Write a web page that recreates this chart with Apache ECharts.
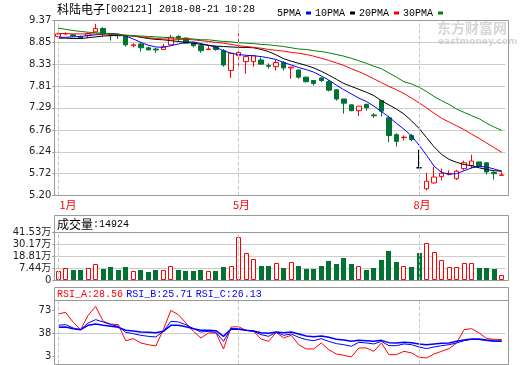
<!DOCTYPE html>
<html><head><meta charset="utf-8">
<script src="https://cdn.jsdelivr.net/npm/echarts@6/dist/echarts.min.js"></script>
<style>html,body{margin:0;padding:0;background:#fff}#c{width:520px;height:365px}</style>
</head><body><div id="c"></div>
<script>
// ---- data ----
const categories = Array.from({length: 60}, (_, i) => 'k' + (i + 1));
const monthTickIndex = [0, 24, 48];
const monthTickLabels = ['1月', '5月', '8月'];
const priceTicks = [5.20, 5.72, 6.24, 6.76, 7.29, 7.81, 8.33, 8.85, 9.37];
const volTicks = [-3.92, 7.44, 18.81, 30.17, 41.53];
const volTickLabels = ['0', '7.44万', '18.81万', '30.17万', '41.53万'];
const rsiTicks = [3, 38, 73];

const open = [8.99,9.05,9.03,8.99,9.01,9.10,9.18,9.03,9.03,9.01, 8.77,8.81,8.72,8.69,8.68,8.79,8.99,8.95,8.83,8.77,
  8.68,8.74,8.65,8.18,8.53,8.39,8.39,8.43,8.30,8.27, 8.37,8.24,8.19,8.02,7.94,8.00,7.91,7.72,7.50,7.36,
  7.22,7.37,7.12,7.46,7.05,6.65,6.58,6.63,5.86,5.36, 5.50,5.65,5.71,5.60,5.84,5.91,6.00,5.98,5.75,5.68];
const close = [9.05,9.06,9.00,8.95,9.06,9.18,9.05,9.01,9.01,8.79, 8.79,8.72,8.67,8.67,8.75,8.97,8.95,8.83,8.77,8.65,
  8.69,8.68,8.31,8.59,8.61,8.51,8.53,8.33,8.28,8.37, 8.24,8.26,8.02,7.91,7.87,7.94,7.71,7.50,7.40,7.22,
  7.33,7.29,7.10,7.21,6.63,6.49,6.59,6.53,5.86,5.54, 5.64,5.73,5.72,5.78,5.98,6.02,5.89,5.76,5.72,5.69];
const low = [8.97,9.02,8.98,8.93,8.95,9.10,8.99,8.89,8.93,8.75, 8.73,8.63,8.67,8.60,8.67,8.79,8.87,8.82,8.73,8.60,
  8.67,8.65,8.27,8.00,8.27,8.10,8.27,8.33,8.22,8.18, 8.18,7.98,7.98,7.90,7.82,7.90,7.68,7.46,7.15,7.21,
  7.09,7.22,7.05,7.08,6.47,6.37,6.51,6.49,5.86,5.32, 5.48,5.56,5.68,5.57,5.80,5.84,5.88,5.70,5.58,5.68];
const high = [9.08,9.09,9.05,9.01,9.08,9.29,9.21,9.05,9.05,9.02, 8.83,8.85,8.75,8.72,8.81,9.03,9.02,8.97,8.86,8.79,
  8.77,8.76,8.69,8.61,9.09,8.53,8.53,8.49,8.35,8.43, 8.40,8.26,8.20,8.03,7.95,8.02,7.95,7.72,7.50,7.37,
  7.33,7.39,7.16,7.47,7.10,6.68,6.63,6.67,6.29,5.74, 5.88,5.84,5.80,5.81,6.03,6.17,6.00,5.98,5.78,5.75];

const ma5 = [8.97,8.97,8.98,8.99,9.01,9.03,9.05,9.06,9.05,9.00, 8.93,8.85,8.78,8.74,8.73,8.77,8.81,8.85,8.86,8.82,
  8.78,8.73,8.65,8.59,8.56,8.54,8.53,8.51,8.48,8.44, 8.37,8.31,8.25,8.20,8.14,8.05,7.95,7.83,7.72,7.62,
  7.52,7.44,7.33,7.20,7.07,6.92,6.78,6.62,6.40,6.16, 5.90,5.75,5.71,5.72,5.79,5.86,5.89,5.88,5.83,5.78];
const ma10 = [8.95,8.95,8.94,8.94,8.96,8.98,9.00,9.01,9.01,9.01, 9.00,8.97,8.94,8.92,8.91,8.89,8.87,8.85,8.83,8.80,
  8.78,8.76,8.75,8.74,8.73,8.73,8.72,8.68,8.63,8.55, 8.46,8.40,8.35,8.30,8.24,8.16,8.07,7.97,7.87,7.80,
  7.73,7.66,7.58,7.46,7.36,7.26,7.14,6.98,6.80,6.58, 6.36,6.18,6.06,5.99,5.94,5.91,5.86,5.82,5.79,5.78];
const ma20 = [9.06,9.06,9.05,9.05,9.05,9.05,9.05,9.04,9.03,9.02, 9.00,8.98,8.96,8.94,8.93,8.93,8.92,8.92,8.91,8.89,
  8.87,8.85,8.83,8.80,8.77,8.75,8.73,8.71,8.68,8.66, 8.64,8.61,8.59,8.56,8.52,8.47,8.42,8.36,8.30,8.22,
  8.15,8.07,7.98,7.89,7.80,7.72,7.63,7.52,7.41,7.29, 7.16,7.04,6.95,6.86,6.77,6.66,6.56,6.45,6.34,6.23];
const ma30 = [9.19,9.16,9.13,9.11,9.09,9.08,9.06,9.06,9.03,9.02, 9.01,9.00,8.99,8.98,8.97,8.96,8.95,8.94,8.93,8.91,
  8.91,8.89,8.87,8.86,8.84,8.83,8.82,8.80,8.79,8.77, 8.75,8.72,8.69,8.68,8.65,8.63,8.60,8.56,8.52,8.47,
  8.41,8.35,8.28,8.22,8.12,8.02,7.91,7.86,7.78,7.68, 7.56,7.46,7.37,7.26,7.18,7.10,7.03,6.92,6.83,6.75];

// volume in 万 (bars are drawn up from the bottom of the panel, as in the reference)
const volume = [5.09,7.61,6.08,6.08,7.61,11.33,6.95,8.81,6.08,8.81, 5.09,6.08,4.43,6.08,6.08,9.47,6.08,5.09,5.09,6.08,
  5.09,5.09,8.81,9.47,36.94,22.17,16.15,9.80,9.80,12.32, 8.26,13.30,9.80,6.95,6.95,9.80,14.50,11.66,17.35,11.66,
  9.80,6.08,7.94,15.49,24.03,13.96,9.80,8.81,22.17,31.58, 23.04,15.16,8.59,8.59,12.32,12.32,7.94,7.94,6.95,1.49];

const rsiA = [67.4,70,55,43.6,65.4,79,56.3,52.2,51.2,26.8, 29.9,23.3,20.7,18.7,43.6,73,66.4,53.7,41,30.9,
  38.5,38.5,14.2,47.6,48.1,42.6,41,29.4,25.8,39.5, 30.9,35,20.7,14.2,14.2,23.3,13.1,6.5,4.5,2,
  15.7,15.7,10.6,23.3,5.5,5.5,10.6,8.1,1.5,0.5, 6.5,10.6,14.7,23.3,43.6,45.1,38.5,30,28.8,28.56];
const rsiB = [50.2,51.2,46.1,43.6,53.7,58.8,55.3,51.2,48.7,39.5, 37.5,35,33.4,32.4,41,56.3,55.3,51.2,45.1,40,
  41,39.5,25.8,45.1,45.1,42.6,41,36,33.4,39.5, 35,37,31.9,28.4,26.8,29.9,25.8,22.3,20.7,18.2,
  24.3,23.3,21.8,25.8,19.2,19.2,21.8,20.7,17.2,14.7, 17.2,19.2,20.7,23.3,26.8,28.9,28.4,26.8,25.8,25.71];
const rsiC = [47.1,47.6,45.1,43.6,50.2,52.2,50.2,48.7,47.1,42.6, 41.6,40,39.5,39,41,50.2,50.2,48.1,45.1,42.6,
  42.6,42.1,33.4,44.6,44.1,42.6,41.6,39,38,40, 39,40,37,33.9,32.9,33.9,31.9,28.9,27.9,25.8,
  27.3,26.8,25.8,27.3,23.8,23.3,24.3,23.8,21.8,20.7, 21.8,22.8,23.3,25.8,27.9,29.4,29.4,27.9,26.8,26.13];

// ---- styling ----
const RED = '#ff0000', GREEN = '#007332', BLUE = '#0000ff';
const MONO = '"Liberation Mono", monospace';
const CJK = '"Noto Sans CJK SC", sans-serif';
const GL = 54.3, GW = 451.2;
const VOL_MIN = volTicks[0], VOL_MAX = volTicks[volTicks.length - 1];

const isUp = categories.map((_, i) => close[i] > open[i] ? true : close[i] < open[i] ? false : (i > 0 ? close[i] >= close[i - 1] : true));
const monthLines = {
  silent: true, symbol: 'none', label: {show: false}, animation: false,
  lineStyle: {type: 'dashed', color: '#c8c8c8', width: 1},
  data: monthTickIndex.map(i => ({xAxis: categories[i]}))
};
const labelOf = (ticks, labels) => v => {
  const k = ticks.findIndex(t => Math.abs(t - v) < 1e-3);
  return k >= 0 ? labels[k] : '';
};

const yLab = {fontSize: 10, fontFamily: '"DejaVu Sans", ' + CJK, color: '#222', margin: 3, showMinLabel: true, showMaxLabel: true};

const option = {
  animation: false,
  legend: {
    left: 272, top: 3, align: 'right', icon: 'rect', itemWidth: 5, itemHeight: 3, itemGap: 4,
    selectedMode: false,
    textStyle: {fontFamily: MONO, fontSize: 10, color: '#000'},
    data: ['5PMA', '10PMA', '20PMA', '30PMA']
  },
  grid: [
    {left: GL, width: GW, top: 20.5, height: 175, outerBoundsMode: 'none'},
    {left: GL, width: GW, top: 232.5, height: 48, outerBoundsMode: 'none'},
    {left: GL, width: GW, top: 300.5, height: 64, outerBoundsMode: 'none'}
  ],
  xAxis: [0, 1, 2].map(g => ({
    type: 'category', gridIndex: g, data: categories, boundaryGap: true,
    axisLine: {show: false}, axisTick: {show: false}, splitLine: {show: false},
    axisLabel: g === 0 ? {
      show: true, margin: 4, fontSize: 11, color: RED, fontFamily: CJK,
      interval: (i) => monthTickIndex.includes(i),
      formatter: (v, i) => {
        const k = monthTickIndex.indexOf(i);
        if (k < 0) return '';
        return (k === 0 ? '{a|' : '{b|') + monthTickLabels[k] + '}';
      },
      rich: {
        a: {padding: [0, 0, 0, 20], fontSize: 11, color: RED, fontFamily: CJK},
        b: {padding: [0, 0, 0, 6], fontSize: 11, color: RED, fontFamily: CJK}
      }
    } : {show: false}
  })),
  yAxis: [
    {
      type: 'value', gridIndex: 0, min: 5.20, max: 9.37,
      axisLine: {show: false},
      axisTick: {show: true, length: 2, customValues: priceTicks, lineStyle: {color: '#999'}},
      axisLabel: Object.assign({customValues: priceTicks, formatter: v => v.toFixed(2)}, yLab),
      splitLine: {show: true, lineStyle: {color: '#cccccc', width: 1}}
    },
    {
      type: 'value', gridIndex: 1, min: VOL_MIN, max: VOL_MAX,
      axisLine: {show: false},
      axisTick: {show: true, length: 2, customValues: volTicks, lineStyle: {color: '#999'}},
      axisLabel: Object.assign({customValues: volTicks, formatter: labelOf(volTicks, volTickLabels)}, yLab),
      splitLine: {show: true, lineStyle: {color: ['transparent', '#cccccc', '#cccccc', '#cccccc', 'transparent'], width: 1}}
    },
    {
      type: 'value', gridIndex: 2, min: -9.5, max: 88,
      axisLine: {show: false},
      axisTick: {show: true, length: 2, customValues: rsiTicks, lineStyle: {color: '#999'}},
      axisLabel: Object.assign({customValues: rsiTicks, formatter: v => String(v)}, yLab),
      splitLine: {show: true, lineStyle: {color: ['transparent', '#cccccc', 'transparent'], width: 1}}
    }
  ],
  series: [
    {
      name: 'K', type: 'candlestick', xAxisIndex: 0, yAxisIndex: 0, barWidth: 5,
      data: categories.map((_, i) => [open[i], close[i], low[i], high[i]]),
      itemStyle: {color: '#ffffff', color0: GREEN, borderColor: RED, borderColor0: GREEN, borderColorDoji: '#000000', borderWidth: 1},
      markLine: monthLines
    },
    {name: '5PMA', type: 'line', data: ma5, symbol: 'none', color: BLUE, lineStyle: {width: 1, color: BLUE}},
    {name: '10PMA', type: 'line', data: ma10, symbol: 'none', color: '#000000', lineStyle: {width: 1, color: '#000000'}},
    {name: '20PMA', type: 'line', data: ma20, symbol: 'none', color: RED, lineStyle: {width: 1, color: RED}},
    {name: '30PMA', type: 'line', data: ma30, symbol: 'none', color: '#008000', lineStyle: {width: 1, color: '#008000'}},
    {
      name: 'VOL', type: 'custom', xAxisIndex: 1, yAxisIndex: 1,
      data: volume.map((v, i) => [i, v, isUp[i] ? 1 : 0]),
      encode: {x: 0, y: 1},
      renderItem: (params, api) => {
        const i = api.value(0), v = api.value(1), up = api.value(2);
        const top = api.coord([i, v]);
        const bot = api.coord([i, VOL_MIN]);
        const x0 = Math.round(top[0] - 2.5);
        const y0 = Math.round(top[1]);
        const y1 = Math.floor(bot[1]);
        if (up) {
          return {type: 'rect', shape: {x: x0 + 0.5, y: y0 + 0.5, width: 4, height: Math.max(0, y1 - y0 - 1)},
            style: {fill: '#ffffff', stroke: RED, lineWidth: 1}};
        }
        return {type: 'rect', shape: {x: x0, y: y0, width: 5, height: y1 - y0}, style: {fill: GREEN}};
      },
      markLine: monthLines
    },
    {name: 'RSI_A', type: 'line', xAxisIndex: 2, yAxisIndex: 2, data: rsiA, symbol: 'none', lineStyle: {width: 1, color: RED}, markLine: monthLines},
    {name: 'RSI_B', type: 'line', xAxisIndex: 2, yAxisIndex: 2, data: rsiB, symbol: 'none', lineStyle: {width: 1, color: BLUE}},
    {name: 'RSI_C', type: 'line', xAxisIndex: 2, yAxisIndex: 2, data: rsiC, symbol: 'none', lineStyle: {width: 1.5, color: BLUE}}
  ],
  graphic: [
    {type: 'text', left: 437, top: 21, silent: true, z: -1,
      style: {text: '东方财富网', fontSize: 14, fontWeight: 'bold', fontFamily: CJK, fill: '#d6d6d6'}},
    {type: 'text', left: 438, top: 37, silent: true, z: -1,
      style: {text: 'eastmoney.com', fontSize: 9, fontWeight: 'bold', fontFamily: '"DejaVu Sans"', fill: '#d6d6d6'}},
    {type: 'rect', silent: true, z: 50, shape: {x: 54.5, y: 20.5, width: 454, height: 175}, style: {fill: 'none', stroke: '#999', lineWidth: 1}},
    {type: 'rect', silent: true, z: 50, shape: {x: 54.5, y: 215.5, width: 454, height: 65}, style: {fill: 'none', stroke: '#999', lineWidth: 1}},
    {type: 'line', silent: true, z: 50, shape: {x1: 54.5, y1: 232.5, x2: 508.5, y2: 232.5}, style: {stroke: '#999', lineWidth: 1}},
    {type: 'rect', silent: true, z: 50, shape: {x: 54.5, y: 287.5, width: 454, height: 77}, style: {fill: 'none', stroke: '#999', lineWidth: 1}},
    {type: 'line', silent: true, z: 50, shape: {x1: 54.5, y1: 300.5, x2: 508.5, y2: 300.5}, style: {stroke: '#999', lineWidth: 1}},
    {type: 'text', x: 57, y: 9, silent: true,
      style: {text: '{c|科陆电子}{e|[002121] 2018-08-21 10:28}', verticalAlign: 'middle',
        rich: {c: {fontSize: 12, fontFamily: CJK, fill: '#000'}, e: {fontSize: 10, fontFamily: MONO, fill: '#000'}}}},
    {type: 'text', x: 57, y: 224, silent: true,
      style: {text: '{c|成交量}{e|:14924}', verticalAlign: 'middle',
        rich: {c: {fontSize: 12, fontFamily: CJK, fill: '#000'}, e: {fontSize: 10, fontFamily: MONO, fill: '#000'}}}},
    {type: 'text', x: 57, y: 294, silent: true,
      style: {text: '{r|RSI_A:28.56} {b|RSI_B:25.71} {b|RSI_C:26.13}', verticalAlign: 'middle',
        rich: {r: {fontSize: 10, fontFamily: MONO, fill: RED}, b: {fontSize: 10, fontFamily: MONO, fill: BLUE}}}}
  ]
};
const chart = echarts.init(document.getElementById('c'), null, {renderer: 'canvas'});
chart.setOption(option);
</script>
</body></html>
